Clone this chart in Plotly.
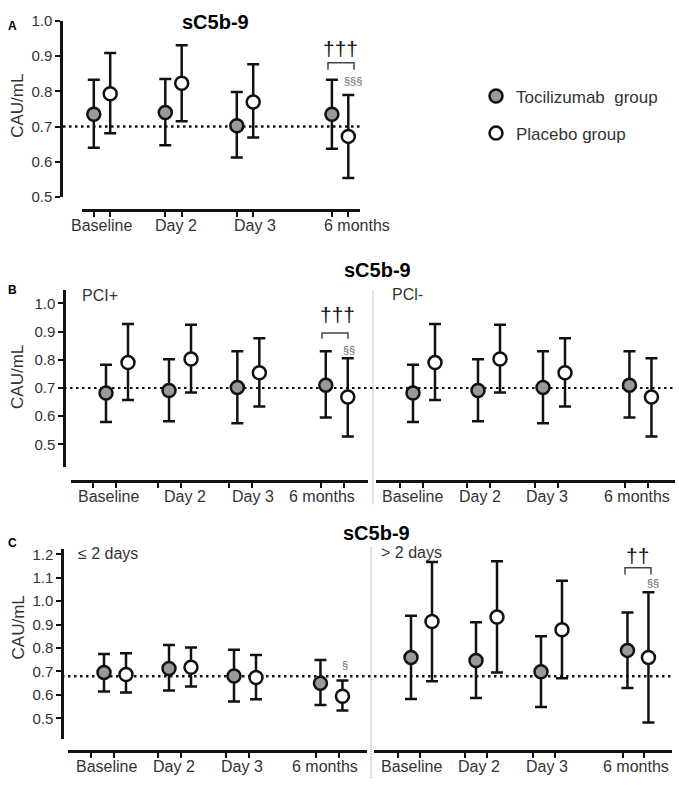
import plotly.graph_objects as go

# ---------------- data ----------------
CATEGORIES = ["Baseline", "Day 2", "Day 3", "6 months"]
GROUPS = ["Tocilizumab  group", "Placebo group"]
Y_TICKS_AB = [0.5, 0.6, 0.7, 0.8, 0.9, 1.0]
Y_TICKS_C = [0.5, 0.6, 0.7, 0.8, 0.9, 1.0, 1.1, 1.2]

# Panel A (all patients)
A_TOC_MEAN = [0.735, 0.740, 0.702, 0.735]
A_TOC_LO = [0.640, 0.647, 0.612, 0.637]
A_TOC_HI = [0.833, 0.835, 0.798, 0.833]
A_PLA_MEAN = [0.793, 0.823, 0.770, 0.672]
A_PLA_LO = [0.681, 0.715, 0.669, 0.554]
A_PLA_HI = [0.909, 0.931, 0.877, 0.790]
A_REF = 0.70

# Panel B, PCI+
BP_TOC_MEAN = [0.682, 0.691, 0.702, 0.710]
BP_TOC_LO = [0.579, 0.582, 0.575, 0.595]
BP_TOC_HI = [0.782, 0.802, 0.830, 0.830]
BP_PLA_MEAN = [0.790, 0.803, 0.754, 0.668]
BP_PLA_LO = [0.657, 0.684, 0.634, 0.528]
BP_PLA_HI = [0.927, 0.924, 0.876, 0.805]
# Panel B, PCI-
BM_TOC_MEAN = [0.682, 0.691, 0.702, 0.710]
BM_TOC_LO = [0.579, 0.582, 0.575, 0.595]
BM_TOC_HI = [0.782, 0.802, 0.830, 0.830]
BM_PLA_MEAN = [0.790, 0.803, 0.754, 0.668]
BM_PLA_LO = [0.657, 0.684, 0.634, 0.528]
BM_PLA_HI = [0.927, 0.924, 0.876, 0.805]
B_REF = 0.70

# Panel C, <= 2 days
CL_TOC_MEAN = [0.696, 0.713, 0.681, 0.650]
CL_TOC_LO = [0.615, 0.619, 0.572, 0.557]
CL_TOC_HI = [0.775, 0.813, 0.793, 0.749]
CL_PLA_MEAN = [0.687, 0.718, 0.674, 0.594]
CL_PLA_LO = [0.610, 0.636, 0.582, 0.534]
CL_PLA_HI = [0.778, 0.802, 0.770, 0.662]
# Panel C, > 2 days
CR_TOC_MEAN = [0.760, 0.747, 0.699, 0.790]
CR_TOC_LO = [0.583, 0.587, 0.548, 0.629]
CR_TOC_HI = [0.938, 0.910, 0.850, 0.952]
CR_PLA_MEAN = [0.913, 0.932, 0.878, 0.760]
CR_PLA_LO = [0.658, 0.696, 0.671, 0.482]
CR_PLA_HI = [1.167, 1.170, 1.087, 1.038]
C_REF = 0.68

# ---------------- layout geometry (pixels) ----------------
W, H = 679, 791
FONT = "Arial, Liberation Sans, sans-serif"
TXT = "#333333"
INK = "#111111"


def fx(px):
    return px / W


def fy(py):
    return 1 - py / H


SLOTS = [0, 1, 2, 3.33]
PANELS = [
    dict(xa="x", ya="y", xdom=(82, 360), ydom=(12.3, 192), yr=(0.5, 1.0), origin=102, scale=71.5,
         off=8.2, xline=205, yline=61, lead=0, stretch=1.0, labels=[101, 176, 255, 357],
         slots=SLOTS, showy=True, yt=Y_TICKS_AB,
         data=(A_TOC_MEAN, A_TOC_LO, A_TOC_HI, A_PLA_MEAN, A_PLA_LO, A_PLA_HI)),
    dict(xa="x2", ya="y2", xdom=(71, 368), ydom=(286.7, 468.3), yr=(0.419, 1.049), origin=117, scale=66,
         off=11, xline=482, yline=64, lead=13, stretch=1.038, labels=[108, 185, 253, 322],
         slots=[0, 0.955, 1.99, 3.33], showy=True, yt=Y_TICKS_AB,
         data=(BP_TOC_MEAN, BP_TOC_LO, BP_TOC_HI, BP_PLA_MEAN, BP_PLA_LO, BP_PLA_HI)),
    dict(xa="x3", ya="y3", xdom=(376, 675), ydom=(286.7, 468.3), yr=(0.419, 1.049), origin=424, scale=65,
         off=11, xline=482, yline=376, lead=13, stretch=1.038, labels=[412, 480, 547, 637],
         slots=SLOTS, showy=False, yt=Y_TICKS_AB,
         data=(BM_TOC_MEAN, BM_TOC_LO, BM_TOC_HI, BM_PLA_MEAN, BM_PLA_LO, BM_PLA_HI)),
    dict(xa="x4", ya="y4", xdom=(68, 367), ydom=(552, 746), yr=(0.412, 1.222), origin=115, scale=65,
         off=11, xline=758, yline=62, lead=13, stretch=1.038, labels=[106, 174, 242, 325],
         slots=SLOTS, showy=True, yt=Y_TICKS_C,
         data=(CL_TOC_MEAN, CL_TOC_LO, CL_TOC_HI, CL_PLA_MEAN, CL_PLA_LO, CL_PLA_HI)),
    dict(xa="x5", ya="y5", xdom=(374, 672), ydom=(552, 746), yr=(0.412, 1.222), origin=421.5, scale=65,
         off=10.5, xline=758, yline=374, lead=13, stretch=1.038, labels=[411, 479, 547, 636],
         slots=SLOTS, showy=False, yt=Y_TICKS_C,
         data=(CR_TOC_MEAN, CR_TOC_LO, CR_TOC_HI, CR_PLA_MEAN, CR_PLA_LO, CR_PLA_HI)),
]

fig = go.Figure()
layout = dict(
    width=W, height=H, autosize=False,
    margin=dict(l=0, r=0, t=0, b=0),
    paper_bgcolor="white", plot_bgcolor="white",
    font=dict(family=FONT, color=TXT),
    showlegend=True,
    legend=dict(x=fx(476), y=fy(71), xanchor="left", yanchor="top",
                font=dict(size=17, color=TXT, family=FONT), bgcolor="rgba(0,0,0,0)",
                tracegroupgap=12, itemwidth=30),
)
annotations = []
shapes = []

for i, p in enumerate(PANELS):
    tm, tl, th, pm, pl, ph = p["data"]
    ou = p["off"] / p["scale"]
    xt = [s - ou for s in p["slots"]]
    xp = [s + ou for s in p["slots"]]
    common = dict(mode="markers", xaxis=p["xa"], yaxis=p["ya"], cliponaxis=False)
    eb = dict(type="data", symmetric=False, thickness=2.5, width=6, color=INK)
    fig.add_trace(go.Scatter(
        x=xt, y=tm, name=GROUPS[0], legendgroup="toc", showlegend=(i == 0),
        error_y=dict(eb, array=[h - m for h, m in zip(th, tm)], arrayminus=[m - l for m, l in zip(tm, tl)]),
        marker=dict(size=13, color="#999999", line=dict(color=INK, width=2.5)), **common))
    fig.add_trace(go.Scatter(
        x=xp, y=pm, name=GROUPS[1], legendgroup="pla", showlegend=(i == 0),
        error_y=dict(eb, array=[h - m for h, m in zip(ph, pm)], arrayminus=[m - l for m, l in zip(pm, pl)]),
        marker=dict(size=13, color="white", line=dict(color=INK, width=2.5)), **common))

    x0 = (p["xdom"][0] - p["origin"]) / p["scale"]
    x1 = (p["xdom"][1] - p["origin"]) / p["scale"]
    u_first = xt[0]
    pts = sorted(xt + xp)
    ticks = [u_first - p["lead"] / p["scale"] + p["stretch"] * (u - u_first) for u in pts]
    xkey = "xaxis" + p["xa"][1:]
    ykey = "yaxis" + p["ya"][1:]
    layout[xkey] = dict(
        domain=[fx(p["xdom"][0]), fx(p["xdom"][1])], range=[x0, x1],
        anchor="free", position=fy(p["xline"]),
        showline=True, linewidth=2.5, linecolor=INK,
        ticks="outside", ticklen=6, tickwidth=2, tickcolor=INK,
        tickvals=ticks, showticklabels=False, showgrid=False, zeroline=False, fixedrange=True)
    layout[ykey] = dict(
        domain=[fy(p["ydom"][1]), fy(p["ydom"][0])], range=list(p["yr"]),
        anchor="free", position=fx(p["yline"]),
        showline=p["showy"], visible=p["showy"], linewidth=2.5, linecolor=INK,
        ticks="outside", ticklen=5, tickwidth=2, tickcolor=INK,
        tickvals=p["yt"], ticktext=["%.1f" % v for v in p["yt"]],
        tickfont=dict(size=15, color=TXT, family=FONT),
        showgrid=False, zeroline=False, fixedrange=True)
    for cat, lx in zip(CATEGORIES, p["labels"]):
        annotations.append(dict(
            x=(lx - p["origin"]) / p["scale"], xref=p["xa"], y=fy(p["xline"] + 16), yref="paper",
            text=cat, showarrow=False, xanchor="center", yanchor="middle",
            font=dict(size=16, color=TXT, family=FONT)))


def ann(px, py, text, size, color=TXT, bold=False, angle=0, xanchor="center"):
    annotations.append(dict(
        x=fx(px), y=fy(py), xref="paper", yref="paper",
        text=("<b>%s</b>" % text) if bold else text, showarrow=False,
        xanchor=xanchor, yanchor="middle", textangle=angle,
        font=dict(size=size, color=color, family=FONT)))


for (tx, ty) in [(215, 13), (377, 267), (376, 535)]:
    ann(tx, ty, "sC5b-9", 20, "#000000", bold=True)
for (lx, ly, t) in [(12, 17, "A"), (12, 287, "B"), (12, 546, "C")]:
    ann(lx, ly, t, 12, "#000000", bold=True)
for yy in [99, 376, 632]:
    ann(18, yy, "CAU/mL", 17, TXT, angle=-90)
ann(100, 293, "PCI+", 16)
ann(407, 292, "PCl-", 16)
ann(108, 556, "≤ 2 days", 16)
ann(411, 555, "> 2 days", 16)

ann(340, 40, "†††", 21, INK)
ann(353, 74, "§§§", 11, "#666666")
ann(337, 312, "†††", 21, INK)
ann(349, 348, "§§", 11, "#666666")
ann(345, 670, "§", 11, "#666666")
ann(637, 559, "††", 21, INK)
ann(653, 587, "§§", 11, "#666666")


def bracket(xa, xb, ytop, ybot):
    shapes.append(dict(
        type="path", xref="paper", yref="paper",
        path="M %f,%f L %f,%f L %f,%f L %f,%f" % (fx(xa), fy(ybot), fx(xa), fy(ytop),
                                                  fx(xb), fy(ytop), fx(xb), fy(ybot)),
        line=dict(color="#444444", width=1.5)))


bracket(328, 354, 55, 62)
bracket(322, 348, 331, 337)
bracket(625, 651, 571, 578)

for (xa, xb, yref, val, lw) in [(63, 362, "y", A_REF, 2.5), (64, 675, "y2", B_REF, 2.0),
                                (62, 674, "y4", C_REF, 2.5)]:
    shapes.append(dict(type="line", xref="paper", yref=yref, x0=fx(xa), x1=fx(xb), y0=val, y1=val,
                       line=dict(color=INK, width=lw, dash="2.5px,3.5px"), layer="below"))

for (xx, ya, yb) in [(373, 288, 507), (371, 550, 787)]:
    shapes.append(dict(type="line", xref="paper", yref="paper", x0=fx(xx), x1=fx(xx),
                       y0=fy(ya), y1=fy(yb), line=dict(color="#aaaaaa", width=1.5, dash="1px,1px")))

layout["annotations"] = annotations
layout["shapes"] = shapes
fig.update_layout(**layout)
fig.write_html("out.html", config={"displayModeBar": False},
               post_script="document.body.style.margin='0px';")
